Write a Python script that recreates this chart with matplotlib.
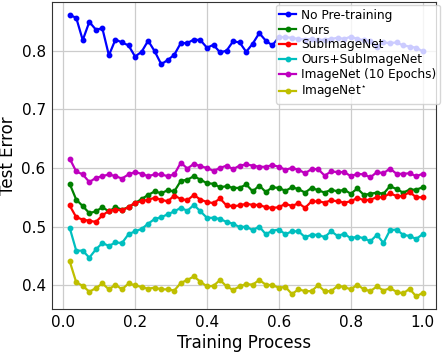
import numpy as np
import matplotlib
matplotlib.use("Agg")
import matplotlib.pyplot as plt

n_points = 55
x = np.arange(1, n_points + 1) / n_points

no_pretrain = [0.861, 0.856, 0.818, 0.849, 0.836, 0.838, 0.792, 0.819, 0.814, 0.809,
               0.790, 0.798, 0.817, 0.799, 0.777, 0.784, 0.793, 0.813, 0.813, 0.819,
               0.818, 0.805, 0.810, 0.797, 0.800, 0.816, 0.814, 0.798, 0.812, 0.830,
               0.817, 0.809, 0.823, 0.823, 0.822, 0.820, 0.819, 0.820, 0.818, 0.819,
               0.820, 0.822, 0.820, 0.824, 0.820, 0.818, 0.816, 0.807, 0.814, 0.813,
               0.814, 0.809, 0.807, 0.805, 0.799]
ours = [0.573, 0.546, 0.535, 0.523, 0.526, 0.533, 0.526, 0.533, 0.529, 0.533,
        0.540, 0.547, 0.554, 0.560, 0.557, 0.562, 0.560, 0.578, 0.580, 0.586,
        0.580, 0.574, 0.573, 0.567, 0.569, 0.566, 0.566, 0.572, 0.560, 0.570,
        0.559, 0.567, 0.566, 0.561, 0.567, 0.564, 0.558, 0.566, 0.562, 0.558,
        0.563, 0.560, 0.563, 0.556, 0.565, 0.554, 0.556, 0.558, 0.556, 0.569,
        0.564, 0.558, 0.563, 0.563, 0.567]
sub_imagenet = [0.536, 0.516, 0.512, 0.510, 0.508, 0.519, 0.527, 0.529, 0.528, 0.533,
                0.541, 0.543, 0.546, 0.549, 0.546, 0.543, 0.553, 0.547, 0.545, 0.554,
                0.546, 0.542, 0.540, 0.548, 0.536, 0.535, 0.536, 0.539, 0.537, 0.537,
                0.533, 0.532, 0.533, 0.539, 0.535, 0.540, 0.532, 0.543, 0.543, 0.541,
                0.545, 0.543, 0.541, 0.543, 0.549, 0.545, 0.546, 0.550, 0.550, 0.557,
                0.552, 0.552, 0.559, 0.550, 0.550]
ours_sub = [0.498, 0.459, 0.459, 0.447, 0.461, 0.472, 0.467, 0.473, 0.472, 0.487,
            0.492, 0.496, 0.505, 0.513, 0.516, 0.521, 0.526, 0.532, 0.527, 0.537,
            0.526, 0.515, 0.515, 0.513, 0.508, 0.505, 0.499, 0.500, 0.494, 0.500,
            0.487, 0.493, 0.495, 0.487, 0.492, 0.492, 0.482, 0.486, 0.486, 0.482,
            0.492, 0.484, 0.488, 0.480, 0.483, 0.480, 0.475, 0.486, 0.472, 0.494,
            0.495, 0.486, 0.484, 0.479, 0.487]
imagenet_10 = [0.616, 0.594, 0.589, 0.576, 0.583, 0.586, 0.589, 0.586, 0.582, 0.589,
               0.593, 0.590, 0.586, 0.589, 0.589, 0.586, 0.589, 0.609, 0.599, 0.607,
               0.603, 0.600, 0.595, 0.600, 0.604, 0.598, 0.604, 0.606, 0.604, 0.602,
               0.602, 0.605, 0.602, 0.597, 0.600, 0.597, 0.591, 0.598, 0.598, 0.587,
               0.594, 0.593, 0.593, 0.586, 0.590, 0.589, 0.584, 0.593, 0.591, 0.599,
               0.590, 0.590, 0.591, 0.586, 0.590]
imagenet_star = [0.441, 0.405, 0.399, 0.389, 0.395, 0.403, 0.393, 0.401, 0.393, 0.403,
                 0.400, 0.397, 0.394, 0.396, 0.393, 0.393, 0.391, 0.404, 0.409, 0.415,
                 0.406, 0.398, 0.399, 0.409, 0.398, 0.392, 0.398, 0.402, 0.401, 0.409,
                 0.401, 0.400, 0.396, 0.397, 0.385, 0.393, 0.390, 0.390, 0.400, 0.390,
                 0.390, 0.399, 0.397, 0.393, 0.401, 0.393, 0.390, 0.398, 0.391, 0.395,
                 0.389, 0.386, 0.394, 0.381, 0.387]

labels = ["No Pre-training", "Ours", "SubImageNet", "Ours+SubImageNet",
          "ImageNet (10 Epochs)", r"ImageNet$^{\star}$"]
colors = ["b", "g", "r", "c", "m", "y"]
series = [no_pretrain, ours, sub_imagenet, ours_sub, imagenet_10, imagenet_star]

fig = plt.figure(figsize=(4.42, 3.52), dpi=100)
ax = fig.add_axes([52/442, 1 - 309/352, (436 - 52)/442, (309 - 2)/352])

for s, c, lab in zip(series, colors, labels):
    ax.plot(x, s, color=c, marker="o", markersize=3.2, linewidth=1.6, label=lab)

ax.set_xlim(-0.031, 1.037)
ax.set_ylim(0.3595, 0.883)
ax.set_xticks([0.0, 0.2, 0.4, 0.6, 0.8, 1.0])
ax.set_yticks([0.4, 0.5, 0.6, 0.7, 0.8])
ax.grid(True, color="#cccccc", linewidth=0.9)
ax.set_axisbelow(True)
ax.tick_params(labelsize=11, length=0, pad=4.5)
for sp in ax.spines.values():
    sp.set_color("#333333")
ax.set_xlabel("Training Process", fontsize=12, labelpad=2.5)
ax.set_ylabel("Test Error", fontsize=12, labelpad=3)

leg = ax.legend(loc="upper right", bbox_to_anchor=(440/442, 1 - 5/352),
                bbox_transform=fig.transFigure, fontsize=8.7,
                labelspacing=0.16, handlelength=1.4, handletextpad=0.4,
                borderpad=0.3, borderaxespad=0.0)

fig.savefig("out.png", dpi=100)
